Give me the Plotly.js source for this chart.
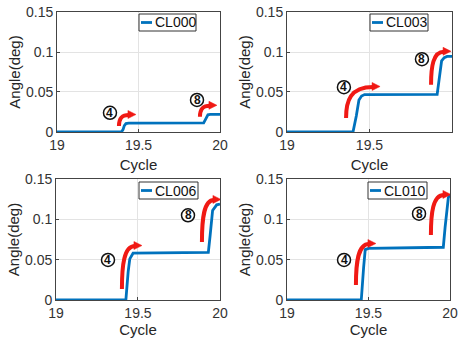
<!DOCTYPE html>
<html><head><meta charset="utf-8">
<script src="https://cdn.plot.ly/plotly-3.0.1.min.js"></script>
<style>body{margin:0;padding:0;background:#fff}#chart{width:458px;height:345px}</style>
</head><body><div id="chart"></div>
<script>
// ---- data ----
const seriesNames = ["CL000", "CL003", "CL006", "CL010"];
const cycle000 = [19, 19.395, 19.405, 19.413, 19.423, 19.44, 19.9, 19.908, 19.916, 19.926, 19.94, 20];
const angle000 = [0, 0, 0.003, 0.008, 0.0105, 0.0112, 0.0115, 0.0145, 0.019, 0.0215, 0.022, 0.022];
const cycle003 = [19, 19.40, 19.42, 19.436, 19.452, 19.47, 19.91, 19.92, 19.937, 19.953, 19.97, 20];
const angle003 = [0, 0, 0.02, 0.040, 0.045, 0.0468, 0.047, 0.062, 0.089, 0.093, 0.0945, 0.0945];
const cycle006 = [19, 19.426, 19.44, 19.45, 19.47, 19.929, 19.94, 19.955, 19.98, 20];
const angle006 = [0, 0, 0.035, 0.051, 0.058, 0.059, 0.08, 0.111, 0.118, 0.119];
const cycle010 = [19, 19.456, 19.47, 19.48, 19.50, 19.959, 19.97, 19.99, 20];
const angle010 = [0, 0.0005, 0.04, 0.0625, 0.064, 0.0654, 0.09, 0.127, 0.130];
const xTicks = [19, 19.5, 20];
const xTickText = ["19", "19.5", "20"];
const yTicks = [0, 0.05, 0.1, 0.15];
const yTickText = ["0", "0.05", "0.1", "0.15"];
const stepLabels = ["4", "8"];

// ---- styling / layout ----
const blue = "#0072BD";
const red = "rgb(240,25,20)";
const xs = [cycle000, cycle003, cycle006, cycle010];
const ys = [angle000, angle003, angle006, angle010];
const domX = [[0.1245, 0.4803], [0.6266, 0.9869], [0.1223, 0.4803], [0.6266, 0.9825]];
const domY = [[0.6174, 0.9652], [0.6174, 0.9652], [0.1304, 0.4812], [0.1304, 0.4812]];
const xTitleStandoff = [7, 7, 0, 0];
// annotation placements per panel: circle centers, arrow starts (data coords), arrow h/w (px)
const circ = [
  [[19.325, 0.024], [19.859, 0.040]],
  [[19.345, 0.056], [19.818, 0.091]],
  [[19.317, 0.0496], [19.805, 0.105]],
  [[19.35, 0.0496], [19.81, 0.107]]
];
const arr = [
  [[19.38, 0.0075, 11, 10], [19.877, 0.019, 11, 10]],
  [[19.358, 0.0175, 31, 27], [19.873, 0.059, 33, 13]],
  [[19.402, 0.0136, 43, 13], [19.89, 0.072, 42, 12]],
  [[19.423, 0.0186, 41, 13], [19.883, 0.0806, 40, 13]]
];
const legendBox = [[139, 14, 196, 31], [370, 14, 428, 31], [139, 182, 198, 199], [368, 182, 427, 199]];

const W = 458, H = 345;
const font = {family: "Liberation Sans, Arial, sans-serif", color: "#262626"};
const traces = [];
const layout = {
  width: W, height: H, margin: {l: 0, r: 0, t: 0, b: 0},
  paper_bgcolor: "#fff", plot_bgcolor: "#fff", showlegend: false,
  font: Object.assign({size: 14}, font),
  shapes: [], annotations: []
};
for (let i = 0; i < 4; i++) {
  const n = i === 0 ? "" : String(i + 1);
  traces.push({
    x: xs[i], y: ys[i], name: seriesNames[i], type: "scatter", mode: "lines",
    line: {color: blue, width: 2.8}, xaxis: "x" + n, yaxis: "y" + n, hoverinfo: "skip"
  });
  layout["xaxis" + n] = {
    domain: domX[i], anchor: "y" + n, range: [19, 20], tickvals: xTicks, ticktext: xTickText,
    showgrid: true, gridcolor: "#e3e3e3", gridwidth: 1, zeroline: false,
    showline: true, linecolor: "#444", linewidth: 1, mirror: true,
    ticks: "inside", ticklen: 3, tickcolor: "#444", tickfont: {size: 14, color: "#333"},
    automargin: false, title: {text: "Cycle", font: {size: 15, color: "#262626"}, standoff: xTitleStandoff[i]}
  };
  layout["yaxis" + n] = {
    domain: domY[i], anchor: "x" + n, range: [0, 0.15], tickvals: yTicks, ticktext: yTickText,
    showgrid: true, gridcolor: "#e3e3e3", gridwidth: 1, zeroline: false,
    showline: true, linecolor: "#444", linewidth: 1, mirror: true,
    ticks: "inside", ticklen: 3, tickcolor: "#444", tickfont: {size: 14, color: "#333"},
    automargin: false, title: {text: "Angle(deg)", font: {size: 15, color: "#262626"}, standoff: 1}
  };
  const xr = "x" + n, yr = "y" + n;
  // arrows
  for (let k = 0; k < 2; k++) {
    const [ax, ay, h, w] = arr[i][k];
    layout.shapes.push({
      type: "path", xref: xr, yref: yr, xsizemode: "pixel", ysizemode: "pixel",
      xanchor: ax, yanchor: ay, layer: "above",
      path: `M0,0 C0,${h * 0.55} ${w * 0.15},${h} ${w},${h}`,
      line: {color: red, width: 4}
    });
    layout.shapes.push({
      type: "path", xref: xr, yref: yr, xsizemode: "pixel", ysizemode: "pixel",
      xanchor: ax, yanchor: ay, layer: "above",
      path: `M${w - 1},${h + 4.5} L${w + 7},${h + 0.5} L${w - 1},${h - 3.5} Z`,
      fillcolor: red, line: {color: red, width: 0.5}
    });
    // circled numbers
    const [cx, cy] = circ[i][k];
    layout.shapes.push({
      type: "circle", xref: xr, yref: yr, xsizemode: "pixel", ysizemode: "pixel",
      xanchor: cx, yanchor: cy, x0: -6.5, x1: 6.5, y0: -6.5, y1: 6.5, layer: "above",
      fillcolor: "#fff", line: {color: "#111", width: 1.5}
    });
    layout.annotations.push({
      x: cx, y: cy, xref: xr, yref: yr, text: "<b>" + stepLabels[k] + "</b>", showarrow: false,
      font: {size: 12, color: "#111", family: "Liberation Sans, Arial, sans-serif"},
      xanchor: "center", yanchor: "middle"
    });
  }
  // legend box (drawn like MATLAB's legend)
  const [bx0, by0, bx1, by1] = legendBox[i];
  layout.shapes.push({
    type: "rect", xref: "paper", yref: "paper",
    x0: bx0 / W, x1: bx1 / W, y0: 1 - by1 / H, y1: 1 - by0 / H, layer: "above",
    fillcolor: "#fff", line: {color: "#333", width: 1}
  });
  const ly = 1 - ((by0 + by1) / 2) / H;
  layout.shapes.push({
    type: "line", xref: "paper", yref: "paper",
    x0: (bx0 + 2) / W, x1: (bx0 + 13) / W, y0: ly, y1: ly, layer: "above",
    line: {color: blue, width: 2.8}
  });
  layout.annotations.push({
    x: (bx0 + 14) / W, y: ly, xref: "paper", yref: "paper", text: seriesNames[i],
    showarrow: false, xanchor: "left", yanchor: "middle",
    font: {size: 14, color: "#111", family: "Liberation Sans, Arial, sans-serif"}
  });
}
Plotly.newPlot("chart", traces, layout, {staticPlot: true, displayModeBar: false});
</script></body></html>
